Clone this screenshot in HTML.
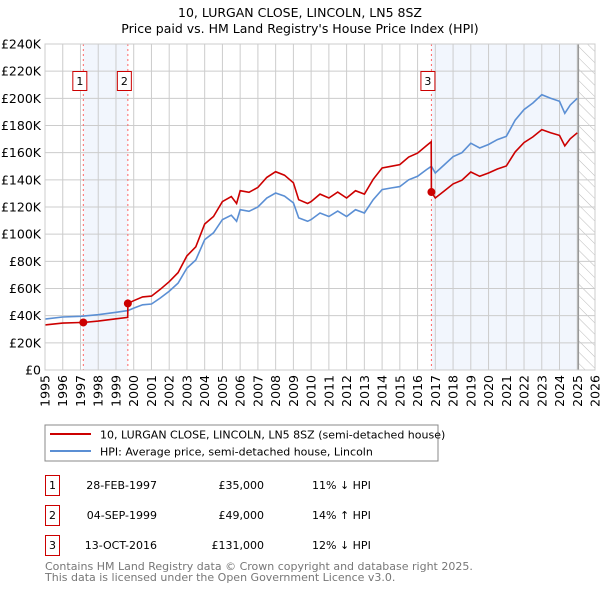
<!DOCTYPE html>
<html><head><meta charset="utf-8"><style>
body{margin:0;background:#fff;}
svg{display:block;font-family:"DejaVu Sans","Liberation Sans",sans-serif;}
</style></head><body>
<svg id="chart" width="600" height="590" viewBox="0 0 600 590">
<text x="300" y="17" text-anchor="middle" font-size="12.5" fill="#000">10, LURGAN CLOSE, LINCOLN, LN5 8SZ</text>
<text x="300" y="33" text-anchor="middle" font-size="12.5" fill="#000">Price paid vs. HM Land Registry's House Price Index (HPI)</text>
<defs><pattern id="hatch" width="8" height="8" patternUnits="userSpaceOnUse" patternTransform="rotate(-45)"><line x1="0" y1="0" x2="0" y2="8" stroke="#bbb" stroke-width="1"/></pattern></defs>
<g id="plot"></g>
<rect x="45" y="425" width="393" height="36" fill="#fff" stroke="#888"/>
<line x1="50" y1="434" x2="91" y2="434" stroke="#cc0000" stroke-width="2"/>
<text x="100" y="438.5" font-size="11">10, LURGAN CLOSE, LINCOLN, LN5 8SZ (semi-detached house)</text>
<line x1="50" y1="451" x2="91" y2="451" stroke="#5b8fd4" stroke-width="2"/>
<text x="100" y="455.5" font-size="11">HPI: Average price, semi-detached house, Lincoln</text>
<g font-size="11">
<rect x="45.5" y="475.5" width="14" height="20" fill="#fff" stroke="#cc0000"/><text x="52.5" y="489" text-anchor="middle">1</text>
<text x="157" y="489" text-anchor="end">28-FEB-1997</text><text x="264" y="489" text-anchor="end">£35,000</text><text x="312" y="489">11% ↓ HPI</text>
<rect x="45.5" y="505.5" width="14" height="20" fill="#fff" stroke="#cc0000"/><text x="52.5" y="519" text-anchor="middle">2</text>
<text x="157" y="519" text-anchor="end">04-SEP-1999</text><text x="264" y="519" text-anchor="end">£49,000</text><text x="312" y="519">14% ↑ HPI</text>
<rect x="45.5" y="535.5" width="14" height="20" fill="#fff" stroke="#cc0000"/><text x="52.5" y="549" text-anchor="middle">3</text>
<text x="157" y="549" text-anchor="end">13-OCT-2016</text><text x="264" y="549" text-anchor="end">£131,000</text><text x="312" y="549">12% ↓ HPI</text>
</g>
<text x="45" y="570" font-size="11" fill="#777">Contains HM Land Registry data © Crown copyright and database right 2025.</text>
<text x="45" y="581" font-size="11" fill="#777">This data is licensed under the Open Government Licence v3.0.</text>
</svg>
<script>
const hpiDates=[1995,1996,1997,1998,1999,1999.67,2000,2000.5,2001,2001.5,2002,2002.5,2003,2003.5,2004,2004.5,2005,2005.5,2005.8,2006,2006.5,2007,2007.5,2008,2008.5,2009,2009.3,2009.8,2010,2010.5,2011,2011.5,2012,2012.5,2013,2013.5,2014,2014.5,2015,2015.5,2016,2016.5,2016.78,2017,2017.5,2018,2018.5,2019,2019.5,2020,2020.5,2021,2021.5,2022,2022.5,2023,2023.5,2024,2024.3,2024.6,2025];
const hpiValues=[37.5,39,39.5,40.7,42.5,43.7,45.6,48,48.6,53,58,64,75,81,96,101,110.7,114,109.5,118,116.8,120,126.6,130.3,128,123,112,109.5,110.7,115.6,113,117,113,118,115.6,125.4,132.8,134,135,140,142.6,147.5,150,145,151,157,160,167,163.4,166,169.6,172,184,191.7,196.6,202.7,200,197.8,189,195,200];
const propDates=[1995,1996,1997,1997.16,1998,1999,1999.66,1999.67,2000,2000.5,2001,2001.5,2002,2002.5,2003,2003.5,2004,2004.5,2005,2005.5,2005.8,2006,2006.5,2007,2007.5,2008,2008.5,2009,2009.3,2009.8,2010,2010.5,2011,2011.5,2012,2012.5,2013,2013.5,2014,2014.5,2015,2015.5,2016,2016.5,2016.77,2016.78,2017,2017.5,2018,2018.5,2019,2019.5,2020,2020.5,2021,2021.5,2022,2022.5,2023,2023.5,2024,2024.3,2024.6,2025];
const propValues=[33.2,34.5,35,35,36,37.7,38.7,49,51,53.8,54.4,59.4,65,71.7,84,90.7,107.5,113,124,127.7,122.6,132,130.8,134.4,141.8,146,143.4,137.8,125.4,122.6,124,129.5,126.6,131,126.6,132,129.5,140.4,148.7,150,151.2,156.8,159.7,165.2,168,131,126.6,131.8,137,139.7,145.8,142.6,145,148,150.2,160.6,167.4,171.6,177,174.6,172.7,165,170.2,174.6];
const saleDates=[1997.16,1999.67,2016.78];
const saleValues=[35,49,131];
const saleLabels=["1","2","3"];
const yTicks=[0,20,40,60,80,100,120,140,160,180,200,220,240];
const yTickLabels=["£0","£20K","£40K","£60K","£80K","£100K","£120K","£140K","£160K","£180K","£200K","£220K","£240K"];
const xTicks=[1995,1996,1997,1998,1999,2000,2001,2002,2003,2004,2005,2006,2007,2008,2009,2010,2011,2012,2013,2014,2015,2016,2017,2018,2019,2020,2021,2022,2023,2024,2025,2026];
const dataEnd=2025.06;

const L=45,R=595,T=44,B=370,x0=1995,x1=2026,yMax=240;
const X=v=>L+(v-x0)/(x1-x0)*(R-L);
const Y=v=>B-v/yMax*(B-T);
const NS='http://www.w3.org/2000/svg';
const g=document.getElementById('plot');
function mk(tag,attrs){const e=document.createElementNS(NS,tag);for(const k in attrs)e.setAttribute(k,attrs[k]);g.appendChild(e);return e;}

let e=mk('rect',{x:X(saleDates[0]),y:T,width:X(saleDates[1])-X(saleDates[0]),height:B-T,fill:'#f2f6fd'});


e=mk('rect',{x:X(saleDates[2]),y:T,width:X(dataEnd)-X(saleDates[2]),height:B-T,fill:'#f2f6fd'});


e=mk('rect',{x:X(dataEnd),y:T,width:R-X(dataEnd),height:B-T,fill:'url(#hatch)'});



yTicks.forEach((v,i)=>{
  let l=mk('line',{x1:L,x2:R,y1:Y(v),y2:Y(v),stroke:'#cccccc','stroke-width':1});
  
  
  let t=mk('text',{x:L-4,y:Y(v)+4.5,'text-anchor':'end','font-size':12.5});
  t.textContent=yTickLabels[i];
  
  
});
xTicks.forEach(v=>{
  let l=mk('line',{x1:X(v),x2:X(v),y1:T,y2:B,stroke:'#cccccc','stroke-width':1});
  
  
  let t=mk('text',{x:0,y:0,'text-anchor':'end','font-size':12.5,transform:`translate(${X(v)+4.5},${B+5}) rotate(-90)`});
  t.textContent=v;
  
  
});
e=mk('line',{x1:X(dataEnd),x2:X(dataEnd),y1:T,y2:B,stroke:'#999','stroke-width':1.5});



saleDates.forEach((d,i)=>{
  let l=mk('line',{x1:X(d),x2:X(d),y1:T,y2:B,stroke:'#ff6666','stroke-width':1,'stroke-dasharray':'2,3'});
  
  
});

function path(ds,vs){return ds.map((d,i)=>(i?'L':'M')+X(d).toFixed(1)+','+Y(vs[i]).toFixed(1)).join('');}
e=mk('path',{d:path(hpiDates,hpiValues),fill:'none',stroke:'#5b8fd4','stroke-width':1.6});


e=mk('path',{d:path(propDates,propValues),fill:'none',stroke:'#cc0000','stroke-width':1.6});



saleDates.forEach((d,i)=>{
  let c=mk('circle',{cx:X(d),cy:Y(saleValues[i]),r:4,fill:'#cc0000'});
  
  
  let bx=X(d)-7-3;
  let r=mk('rect',{x:bx-0.5,y:71.5,width:14,height:19,fill:'#fff',stroke:'#cc0000'});
  
  
  let t=mk('text',{x:bx+6.5,y:85,'text-anchor':'middle','font-size':11});
  t.textContent=saleLabels[i];
  
  
});
e=mk('rect',{x:L,y:T,width:R-L,height:B-T,fill:'none',stroke:'#cccccc'});


</script>
</body></html>
